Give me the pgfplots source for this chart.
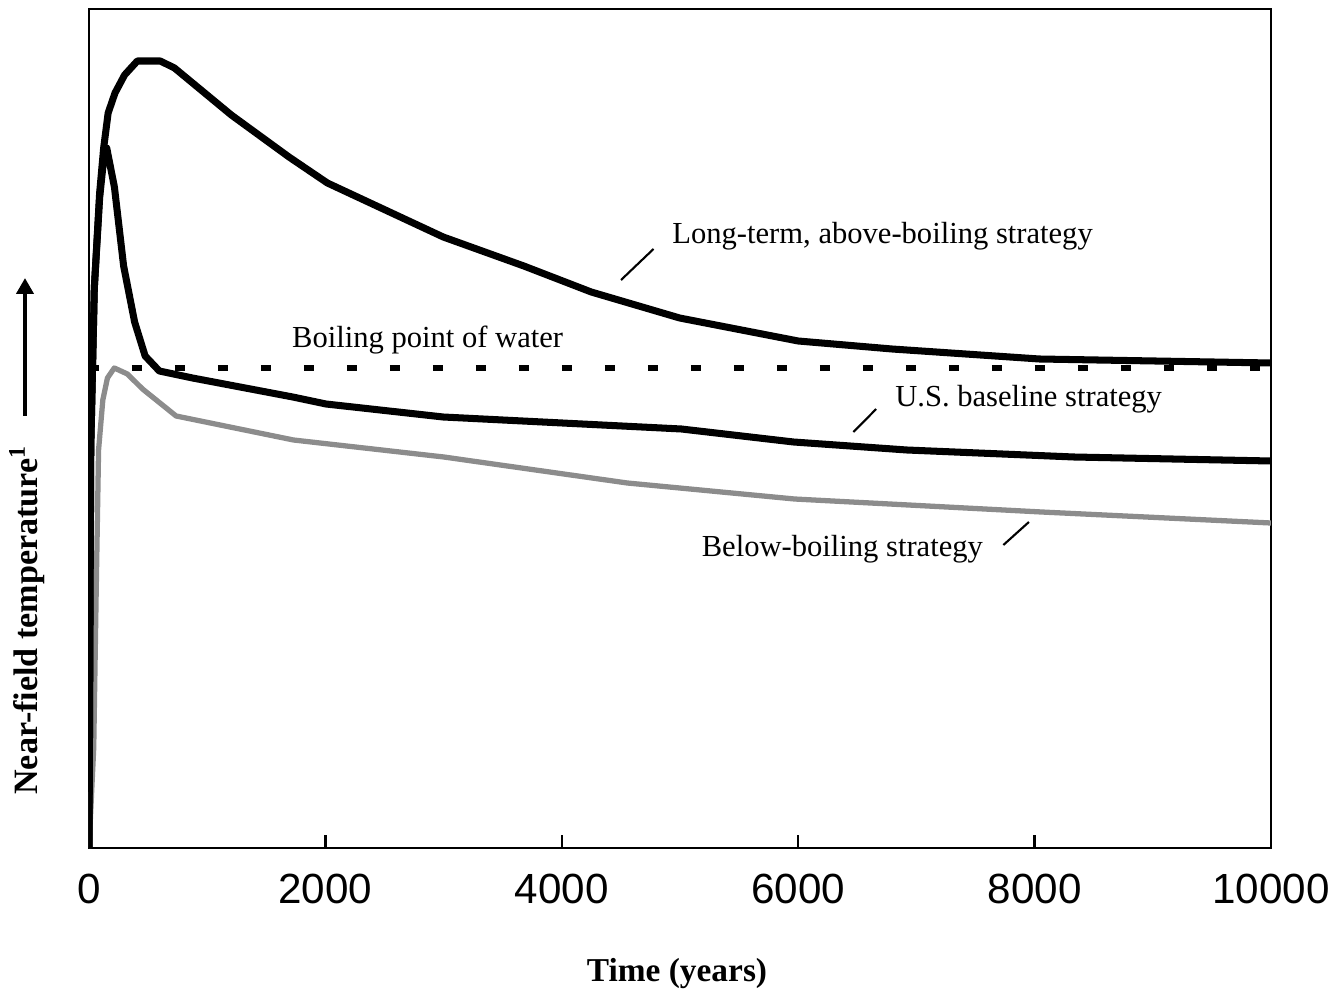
\documentclass[border=0pt]{standalone}
\usepackage{fontspec}
\setmainfont{Liberation Serif}
\newfontfamily\ticksans{Liberation Sans}
\usepackage{pgfplots}
\pgfplotsset{compat=1.18}
\usetikzlibrary{arrows.meta}

\begin{document}
\begin{tikzpicture}
\path[use as bounding box] (-8.9mm,-15.6mm) rectangle (125.2mm,84.8mm);
\begin{axis}[
    at={(0,0)}, anchor=south west,
    width=118.2mm, height=83.9mm, scale only axis,
    xmin=0, xmax=10000, ymin=0, ymax=839,
    xtick={0,2000,...,10000}, ytick=\empty,
    xtick pos=bottom, tick align=inside, major tick length=1.3mm,
    axis line style={line width=0.7pt},
    every tick/.style={black, line width=0.7pt},
    scaled x ticks=false,
    /pgf/number format/1000 sep={},
    xticklabel style={font=\ticksans\fontsize{12}{14}\selectfont, yshift=-1.4mm,
        /pgf/number format/assume math mode=true},
    xlabel={Time (years)},
    xlabel style={at={(axis description cs:0.4975,-0.150)}, anchor=center,
        font=\bfseries\fontsize{9.5}{11}\selectfont},
    ylabel={Near-field temperature\textsuperscript{1}},
    ylabel style={at={(axis description cs:-0.0525,0.272)}, anchor=center,
        font=\bfseries\fontsize{9.7}{11}\selectfont},
]
% boiling point of water
\addplot[black, line width=1.7pt, dash pattern=on 1mm off 3.3mm] coordinates {(0,480) (10000,480)};
% below-boiling strategy
\addplot[black!45, line width=1.5pt, line join=round] coordinates {
    (0,0) (40,100) (60,250) (81,398) (117,448) (156,470) (214,480) (325,474)
    (453,459) (737,432) (1730,408) (3002,391) (4554,365) (5969,349) (8059,336) (10000,325)
};
% U.S. baseline strategy
\addplot[black, line width=2pt, line join=round] coordinates {
    (0,0) (15,400) (45,560) (90,650) (125,690) (150,700) (215,661) (293,582)
    (386,526) (475,492) (595,477) (876,470) (1724,451) (2005,444) (2997,431)
    (5012,419) (5961,406) (6919,398) (8333,391) (10000,387)
};
% long-term, above-boiling strategy
\addplot[black, line width=2pt, line join=round] coordinates {
    (0,0) (15,400) (45,560) (90,655) (124,700) (162,735) (220,755) (301,773)
    (409,787) (603,787) (723,780) (1204,733) (1692,691) (2017,665) (2997,611)
    (3679,582) (4249,556) (4997,530) (6000,507) (6794,499) (8041,489) (10000,485)
};
\begin{scope}[font=\fontsize{8.7}{10}\selectfont]
\node[anchor=west] at (axis cs:4831,612) {Long-term, above-boiling strategy};
\draw[line width=0.6pt] (axis cs:4501,568) -- (axis cs:4776,599);
\node at (axis cs:2865,508) {Boiling point of water};
\node[anchor=west] at (axis cs:6717,449) {U.S. baseline strategy};
\draw[line width=0.6pt] (axis cs:6467,416) -- (axis cs:6660,439);
\node[anchor=east] at (axis cs:7668,299) {Below-boiling strategy};
\draw[line width=0.6pt] (axis cs:7736,303) -- (axis cs:7952,326);
\end{scope}
\end{axis}
\draw[line width=0.45mm, -{Triangle[width=1.7mm,length=1.6mm]}] (-6.4mm,43.2mm) -- (-6.4mm,57mm);
\end{tikzpicture}
\end{document}
